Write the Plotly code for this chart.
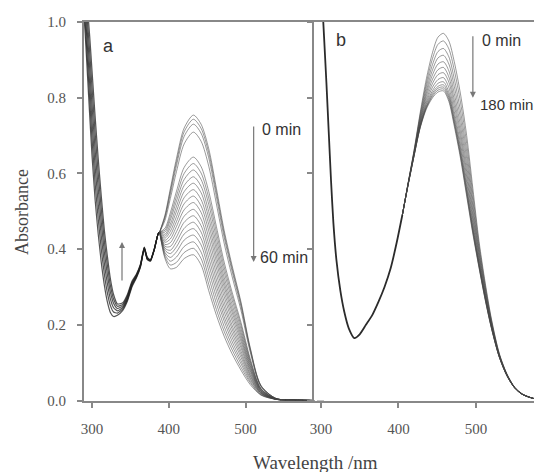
import plotly.graph_objects as go

# ---------------- Panel a data ----------------
WL_A_LEFT = [288, 291, 294, 297, 300, 304, 308, 312, 316, 320, 324, 328, 333, 340,
             346, 352, 358, 363, 368, 372, 376, 381, 386, 388]
ABS_A_LEFT = [
    [1.06, 0.97, 0.86, 0.75, 0.645, 0.53, 0.44, 0.365, 0.305, 0.26, 0.232, 0.222, 0.225, 0.238, 0.262, 0.30, 0.325, 0.352, 0.40, 0.372, 0.368, 0.398, 0.44, 0.445],
    [1.088, 1.00, 0.896, 0.792, 0.69, 0.574, 0.48, 0.40, 0.334, 0.284, 0.250, 0.234, 0.231, 0.242, 0.266, 0.303, 0.327, 0.354, 0.401, 0.373, 0.369, 0.398, 0.44, 0.445],
    [1.116, 1.03, 0.932, 0.834, 0.735, 0.618, 0.52, 0.435, 0.363, 0.308, 0.267, 0.245, 0.237, 0.246, 0.269, 0.306, 0.329, 0.355, 0.402, 0.374, 0.37, 0.399, 0.44, 0.445],
    [1.144, 1.06, 0.968, 0.876, 0.78, 0.662, 0.56, 0.47, 0.392, 0.332, 0.285, 0.257, 0.243, 0.25, 0.273, 0.309, 0.331, 0.357, 0.403, 0.375, 0.37, 0.399, 0.44, 0.445],
    [1.172, 1.09, 1.004, 0.918, 0.825, 0.706, 0.60, 0.505, 0.421, 0.356, 0.302, 0.268, 0.249, 0.254, 0.276, 0.312, 0.333, 0.358, 0.404, 0.377, 0.371, 0.40, 0.44, 0.445],
    [1.2, 1.12, 1.04, 0.96, 0.87, 0.75, 0.64, 0.54, 0.45, 0.38, 0.32, 0.28, 0.255, 0.258, 0.28, 0.315, 0.335, 0.36, 0.405, 0.378, 0.372, 0.40, 0.44, 0.445],
]

WL_A_RIGHT = [388, 395, 402, 410, 420, 432, 442, 452, 462, 472, 482, 494, 506, 520, 540, 565, 590]
ABS_A_RIGHT = [
    [0.445, 0.490, 0.560, 0.640, 0.720, 0.754, 0.730, 0.665, 0.560, 0.450, 0.360, 0.260, 0.140, 0.040, 0.005, 0.002, 0.0],
    [0.445, 0.487, 0.554, 0.631, 0.710, 0.743, 0.719, 0.654, 0.550, 0.442, 0.353, 0.255, 0.137, 0.039, 0.005, 0.002, 0.0],
    [0.445, 0.483, 0.546, 0.621, 0.698, 0.730, 0.706, 0.641, 0.538, 0.432, 0.345, 0.248, 0.134, 0.038, 0.005, 0.002, 0.0],
    [0.445, 0.476, 0.534, 0.605, 0.678, 0.709, 0.685, 0.619, 0.519, 0.416, 0.331, 0.238, 0.128, 0.037, 0.005, 0.002, 0.0],
    [0.445, 0.455, 0.496, 0.553, 0.616, 0.643, 0.618, 0.552, 0.459, 0.366, 0.289, 0.206, 0.111, 0.032, 0.004, 0.001, 0.0],
    [0.445, 0.450, 0.486, 0.540, 0.600, 0.626, 0.601, 0.535, 0.444, 0.353, 0.279, 0.198, 0.106, 0.031, 0.004, 0.001, 0.0],
    [0.445, 0.445, 0.477, 0.527, 0.584, 0.609, 0.584, 0.518, 0.428, 0.340, 0.268, 0.189, 0.102, 0.030, 0.004, 0.001, 0.0],
    [0.445, 0.439, 0.466, 0.513, 0.568, 0.591, 0.566, 0.499, 0.412, 0.326, 0.256, 0.180, 0.097, 0.029, 0.004, 0.001, 0.0],
    [0.445, 0.434, 0.457, 0.500, 0.552, 0.574, 0.549, 0.482, 0.397, 0.313, 0.245, 0.172, 0.092, 0.027, 0.004, 0.001, 0.0],
    [0.445, 0.429, 0.447, 0.486, 0.536, 0.557, 0.531, 0.465, 0.381, 0.301, 0.235, 0.164, 0.088, 0.026, 0.003, 0.001, 0.0],
    [0.445, 0.423, 0.437, 0.473, 0.520, 0.540, 0.514, 0.448, 0.366, 0.288, 0.224, 0.156, 0.083, 0.025, 0.003, 0.001, 0.0],
    [0.445, 0.418, 0.427, 0.460, 0.504, 0.523, 0.497, 0.430, 0.350, 0.275, 0.213, 0.147, 0.079, 0.024, 0.003, 0.001, 0.0],
    [0.445, 0.412, 0.417, 0.446, 0.487, 0.505, 0.479, 0.412, 0.334, 0.261, 0.201, 0.139, 0.074, 0.022, 0.003, 0.001, 0.0],
    [0.445, 0.407, 0.407, 0.432, 0.471, 0.488, 0.462, 0.395, 0.318, 0.248, 0.191, 0.130, 0.069, 0.021, 0.003, 0.001, 0.0],
    [0.445, 0.402, 0.397, 0.419, 0.455, 0.471, 0.445, 0.377, 0.303, 0.235, 0.180, 0.122, 0.065, 0.020, 0.003, 0.0, 0.0],
    [0.445, 0.397, 0.388, 0.406, 0.440, 0.454, 0.428, 0.360, 0.288, 0.222, 0.169, 0.114, 0.060, 0.019, 0.003, 0.0, 0.0],
    [0.445, 0.391, 0.378, 0.393, 0.424, 0.437, 0.411, 0.343, 0.272, 0.210, 0.158, 0.105, 0.056, 0.018, 0.003, 0.0, 0.0],
    [0.445, 0.386, 0.368, 0.379, 0.407, 0.419, 0.392, 0.325, 0.256, 0.196, 0.147, 0.097, 0.051, 0.016, 0.003, 0.0, 0.0],
    [0.445, 0.380, 0.358, 0.365, 0.391, 0.402, 0.375, 0.307, 0.240, 0.183, 0.136, 0.088, 0.047, 0.015, 0.003, 0.0, 0.0],
    [0.445, 0.375, 0.348, 0.352, 0.375, 0.385, 0.358, 0.290, 0.225, 0.170, 0.125, 0.080, 0.042, 0.014, 0.003, 0.0, 0.0],
]

# ---------------- Panel b data ----------------
WL_B_LEFT = [296, 298, 301, 304, 307, 310, 313, 316, 320, 325, 330, 336, 343, 350, 358, 366,
             374, 382, 390, 398, 405]
ABS_B_LEFT = [1.4, 1.25, 1.08, 0.96, 0.84, 0.71, 0.58, 0.47, 0.37, 0.29, 0.235, 0.19, 0.165,
              0.175, 0.20, 0.225, 0.26, 0.30, 0.35, 0.42, 0.49]

WL_B_RIGHT = [405, 412, 420, 428, 436, 444, 451, 458, 465, 472, 480, 488, 496, 504, 512, 520,
              530, 540, 550, 560, 575, 590, 600]
ABS_B_RIGHT = [
    [0.49, 0.570, 0.660, 0.760, 0.850, 0.920, 0.960, 0.970, 0.950, 0.895, 0.810, 0.700, 0.560, 0.420, 0.310, 0.215, 0.125, 0.070, 0.035, 0.017, 0.005, 0.001, 0.0],
    [0.49, 0.569, 0.658, 0.755, 0.839, 0.904, 0.941, 0.950, 0.929, 0.873, 0.788, 0.679, 0.544, 0.411, 0.304, 0.212, 0.124, 0.069, 0.035, 0.017, 0.005, 0.001, 0.0],
    [0.49, 0.569, 0.656, 0.750, 0.829, 0.888, 0.922, 0.930, 0.908, 0.850, 0.765, 0.658, 0.528, 0.402, 0.298, 0.208, 0.122, 0.069, 0.034, 0.017, 0.005, 0.001, 0.0],
    [0.49, 0.568, 0.654, 0.745, 0.819, 0.874, 0.905, 0.912, 0.889, 0.830, 0.745, 0.639, 0.514, 0.393, 0.293, 0.206, 0.121, 0.068, 0.034, 0.017, 0.005, 0.001, 0.0],
    [0.49, 0.568, 0.653, 0.740, 0.811, 0.861, 0.889, 0.895, 0.871, 0.811, 0.726, 0.621, 0.501, 0.386, 0.288, 0.203, 0.120, 0.068, 0.034, 0.016, 0.005, 0.001, 0.0],
    [0.49, 0.567, 0.651, 0.736, 0.803, 0.849, 0.874, 0.880, 0.855, 0.794, 0.709, 0.605, 0.489, 0.379, 0.283, 0.200, 0.119, 0.067, 0.034, 0.016, 0.005, 0.001, 0.0],
    [0.49, 0.567, 0.650, 0.733, 0.795, 0.838, 0.861, 0.866, 0.841, 0.779, 0.694, 0.591, 0.478, 0.372, 0.279, 0.198, 0.118, 0.067, 0.034, 0.016, 0.005, 0.001, 0.0],
    [0.49, 0.566, 0.649, 0.729, 0.788, 0.828, 0.848, 0.853, 0.827, 0.764, 0.679, 0.577, 0.468, 0.366, 0.275, 0.196, 0.117, 0.066, 0.033, 0.016, 0.005, 0.001, 0.0],
    [0.49, 0.566, 0.647, 0.726, 0.783, 0.819, 0.838, 0.842, 0.815, 0.752, 0.667, 0.565, 0.459, 0.361, 0.272, 0.194, 0.117, 0.066, 0.033, 0.016, 0.005, 0.001, 0.0],
    [0.49, 0.566, 0.647, 0.724, 0.778, 0.813, 0.830, 0.834, 0.807, 0.743, 0.658, 0.557, 0.453, 0.357, 0.270, 0.193, 0.116, 0.066, 0.033, 0.016, 0.005, 0.001, 0.0],
    [0.49, 0.565, 0.646, 0.723, 0.775, 0.808, 0.825, 0.828, 0.801, 0.736, 0.651, 0.551, 0.448, 0.355, 0.268, 0.192, 0.116, 0.065, 0.033, 0.016, 0.005, 0.001, 0.0],
    [0.49, 0.565, 0.645, 0.721, 0.773, 0.804, 0.820, 0.823, 0.795, 0.731, 0.646, 0.545, 0.444, 0.352, 0.266, 0.191, 0.115, 0.065, 0.033, 0.016, 0.005, 0.001, 0.0],
    [0.49, 0.565, 0.645, 0.720, 0.770, 0.800, 0.815, 0.818, 0.790, 0.725, 0.640, 0.540, 0.440, 0.350, 0.265, 0.190, 0.115, 0.065, 0.033, 0.016, 0.005, 0.001, 0.0],
]

Y_TICKS = [0.0, 0.2, 0.4, 0.6, 0.8, 1.0]
Y_TICK_LABELS = ["0.0", "0.2", "0.4", "0.6", "0.8", "1.0"]
X_TICKS = [300, 400, 500]
X_TICK_LABELS = ["300", "400", "500"]

W, H = 542, 472
OFF = 8  # page offset of the figure inside the browser window

fig = go.Figure()

band_col = "rgba(70,70,70,0.55)"
dark_col = "rgba(30,30,30,0.75)"

for row in ABS_A_LEFT:
    fig.add_trace(go.Scatter(x=WL_A_LEFT, y=row, mode="lines", xaxis="x", yaxis="y",
                             line=dict(color=dark_col, width=1.2, shape="spline", smoothing=0.5),
                             showlegend=False, hoverinfo="skip"))
for row in ABS_A_RIGHT:
    fig.add_trace(go.Scatter(x=WL_A_RIGHT, y=row, mode="lines", xaxis="x", yaxis="y",
                             line=dict(color=band_col, width=1, shape="spline", smoothing=0.8),
                             showlegend=False, hoverinfo="skip"))
fig.add_trace(go.Scatter(x=WL_B_LEFT, y=ABS_B_LEFT, mode="lines", xaxis="x2", yaxis="y2",
                         line=dict(color="rgba(20,20,20,0.9)", width=1.8, shape="spline", smoothing=0.6),
                         showlegend=False, hoverinfo="skip"))
for row in ABS_B_RIGHT:
    fig.add_trace(go.Scatter(x=WL_B_RIGHT, y=row, mode="lines", xaxis="x2", yaxis="y2",
                             line=dict(color=band_col, width=1, shape="spline", smoothing=0.8),
                             showlegend=False, hoverinfo="skip"))

# pixel geometry (page pixels) -> paper domains
ax_l, ax_r = 84 - OFF, 317 - OFF
bx_l, bx_r = 314 - OFF, 542 - OFF
y_top, y_bot = 22 - OFF, 400.5 - OFF
ydom = [(H - y_bot) / H, (H - y_top) / H]

serif = "Liberation Serif, Times New Roman, serif"
tickfont = dict(family=serif, size=15, color="#555")
axis_common = dict(showgrid=False, zeroline=False, linecolor="#888", linewidth=2,
                   ticks="outside", ticklen=5, tickcolor="#888", tickwidth=1.5,
                   tickfont=tickfont, automargin=False)

fig.update_layout(
    template="none",
    width=W, height=H,
    margin=dict(l=0, r=0, t=0, b=0, autoexpand=False),
    paper_bgcolor="white", plot_bgcolor="white",
    showlegend=False,
    xaxis=dict(domain=[ax_l / W, ax_r / W], range=[289.5, 593], anchor="y",
               tickvals=X_TICKS, ticktext=X_TICK_LABELS, mirror=True,
               ticklabelstandoff=8, **axis_common),
    yaxis=dict(domain=ydom, range=[0, 1.0], anchor="x",
               tickvals=Y_TICKS, ticktext=Y_TICK_LABELS, mirror="ticks",
               ticklabelstandoff=8, **axis_common),
    xaxis2=dict(domain=[bx_l / W, bx_r / W], range=[291, 585.2], anchor="y2",
                tickvals=X_TICKS, ticktext=X_TICK_LABELS, mirror=True,
                ticklabelstandoff=8, **axis_common),
    yaxis2=dict(domain=ydom, range=[0, 1.0], anchor="x2",
                tickvals=Y_TICKS, showticklabels=False, **axis_common),
)

# axis titles
fig.add_annotation(text="Absorbance", xref="paper", yref="paper",
                   x=(22 - OFF) / W, y=(H - (212 - OFF)) / H, showarrow=False, textangle=-90,
                   xanchor="center", yanchor="middle",
                   font=dict(family=serif, size=18, color="#444"))
fig.add_annotation(text="Wavelength /nm", xref="paper", yref="paper",
                   x=(315 - OFF) / W, y=(H - (462 - OFF)) / H, showarrow=False,
                   xanchor="center", yanchor="middle",
                   font=dict(family=serif, size=19, color="#444"))

lab_font = dict(family="Liberation Sans, Arial, sans-serif", size=16, color="#333")
let_font = dict(family="Liberation Sans, Arial, sans-serif", size=18, color="#333")
arrow_col = "#777"

# panel letters
fig.add_annotation(text="a", x=321, y=0.937, xref="x", yref="y", showarrow=False, font=let_font)
fig.add_annotation(text="b", x=326, y=0.952, xref="x2", yref="y2", showarrow=False, font=let_font)

# panel a time arrow and labels
fig.add_annotation(x=510.5, y=0.366, ax=510.5, ay=0.728, xref="x", yref="y", axref="x", ayref="y",
                   showarrow=True, arrowhead=2, arrowsize=1, arrowwidth=1.2, arrowcolor=arrow_col, text="")
fig.add_annotation(text="0 min", x=519, y=0.715, xref="x", yref="y", showarrow=False,
                   xanchor="left", font=lab_font)
fig.add_annotation(text="60 min", x=516, y=0.379, xref="x", yref="y", showarrow=False,
                   xanchor="left", font=lab_font)
# panel a up arrow
fig.add_annotation(x=339, y=0.419, ax=339, ay=0.313, xref="x", yref="y", axref="x", ayref="y",
                   showarrow=True, arrowhead=2, arrowsize=1, arrowwidth=1.2, arrowcolor=arrow_col, text="")

# panel b arrow and labels
fig.add_annotation(x=496, y=0.80, ax=496, ay=0.966, xref="x2", yref="y2", axref="x2", ayref="y2",
                   showarrow=True, arrowhead=2, arrowsize=1, arrowwidth=1.2, arrowcolor=arrow_col, text="")
fig.add_annotation(text="0 min", x=505, y=0.95, xref="x2", yref="y2", showarrow=False,
                   xanchor="left", font=lab_font)
fig.add_annotation(text="180 min", x=503, y=0.783, xref="x2", yref="y2", showarrow=False,
                   xanchor="left", font=dict(family="Liberation Sans, Arial, sans-serif", size=15, color="#333"))

fig.write_html("out.html")
